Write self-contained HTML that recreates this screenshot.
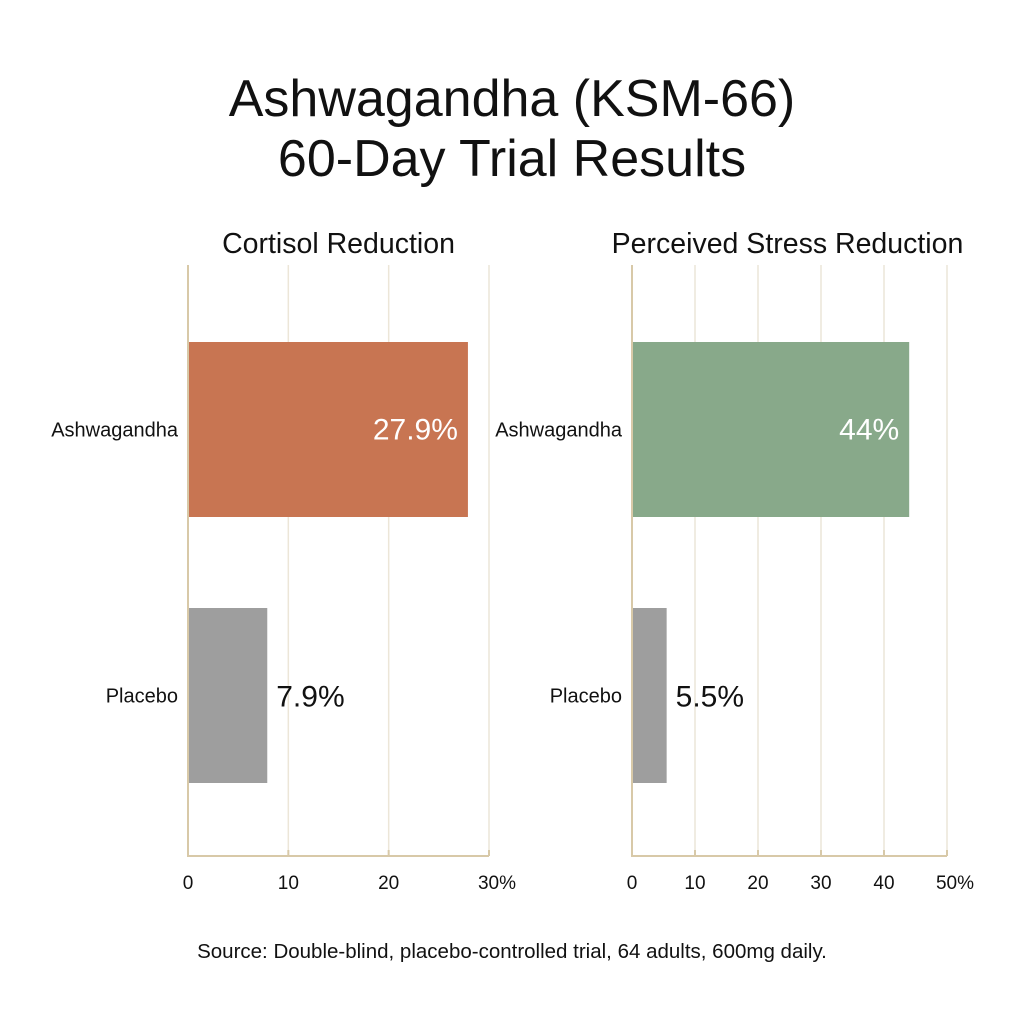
<!DOCTYPE html>
<html><head><meta charset="utf-8"><style>
body{margin:0;background:#fff;}
svg{display:block;font-family:"Liberation Sans",sans-serif;}
</style></head><body>
<svg id="c" width="1024" height="1024">
<text x="512" y="116" text-anchor="middle" font-size="52" fill="#111">Ashwagandha (KSM-66)</text>
<text x="512" y="176" text-anchor="middle" font-size="52" fill="#111">60-Day Trial Results</text>
<text x="512" y="958" text-anchor="middle" font-size="20.5" fill="#111">Source: Double-blind, placebo-controlled trial, 64 adults, 600mg daily.</text>
</svg>
<script>
const categories=["Ashwagandha","Placebo"];
const cortisolValues=[27.9,7.9];
const cortisolLabels=["27.9%","7.9%"];
const cortisolTicks=[0,10,20,30];
const cortisolTickLabels=["0","10","20","30%"];
const stressValues=[44,5.5];
const stressLabels=["44%","5.5%"];
const stressTicks=[0,10,20,30,40,50];
const stressTickLabels=["0","10","20","30","40","50%"];
const svg=document.getElementById('c');
const NS="http://www.w3.org/2000/svg";
function mk(tag,attrs,txt){const e=document.createElementNS(NS,tag);for(const k in attrs)e.setAttribute(k,attrs[k]);if(txt!==undefined)e.textContent=txt;svg.appendChild(e);return e;}
function panel(key,title,x0,x1,max,vals,labels,ticks,tickLabels,color){
  const xs=v=>x0+(x1-x0)*v/max;
  const top=265,bottom=856;
  const bandY=[342,608],bandH=175;
  let t=mk('text',{x:(x0+x1)/2+(key=='stress'?-2:0),y:253,'text-anchor':'middle','font-size':28.5,fill:'#111'},title);
  
  
  ticks.forEach((tv,i)=>{
    if(tv>0){let g=mk('line',{x1:xs(tv),x2:xs(tv),y1:top,y2:bottom,stroke:'#ece6d8','stroke-width':1.5});
    
    
    let tk=mk('line',{x1:xs(tv),x2:xs(tv),y1:bottom-6,y2:bottom,stroke:'#d8c9a8','stroke-width':2});
    
    }
    let l=mk('text',{x:xs(tv)+(i==ticks.length-1?8:0),y:889,'text-anchor':'middle','font-size':19,fill:'#111'},tickLabels[i]);
    
    
  });
  vals.forEach((v,i)=>{
    let b=mk('rect',{x:x0,y:bandY[i],width:xs(v)-x0,height:bandH,fill:i==0?color:'#9e9e9e'});
    
    
    let cy=bandY[i]+bandH/2;
    let cl=mk('text',{x:x0-10,y:cy+7,'text-anchor':'end','font-size':20,fill:'#111'},categories[i]);
    
    
    let vl;
    if(i==0) vl=mk('text',{x:xs(v)-10,y:cy+10,'text-anchor':'end','font-size':30,fill:'#fff'},labels[i]);
    else vl=mk('text',{x:xs(v)+9,y:cy+11,'text-anchor':'start','font-size':30,fill:'#111'},labels[i]);
    
    
  });
  let ax=mk('path',{d:`M${x0},${top}V${bottom}H${x1}`,fill:'none',stroke:'#d8c9a8','stroke-width':2});
  
  
}
panel('cortisol','Cortisol Reduction',188,489,30,cortisolValues,cortisolLabels,cortisolTicks,cortisolTickLabels,'#c87552');
panel('stress','Perceived Stress Reduction',632,947,50,stressValues,stressLabels,stressTicks,stressTickLabels,'#88a98a');
</script>
</body></html>
